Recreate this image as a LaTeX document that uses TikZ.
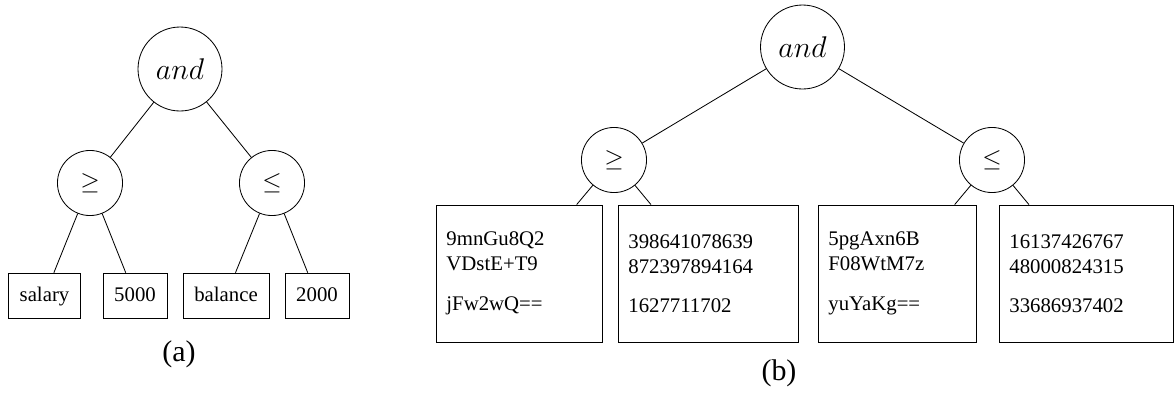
\documentclass[tikz,border=0pt]{standalone}
\usepackage{fontspec}
\setmainfont{Liberation Serif}
\begin{document}
\begin{tikzpicture}[x=0.481pt,y=-0.481pt,
        raiz/.style={draw,circle,inner sep=0pt,minimum size=40.4pt,font=\Large},
        op/.style={draw,circle,inner sep=0pt,minimum size=31.3pt,font=\large},
        hoja/.style={draw,inner xsep=5.4pt,text height=7pt,text depth=2pt,minimum height=22pt},
        cifra/.style={draw,align=left,inner xsep=5pt,minimum height=65.9pt},
        rotulo/.style={font=\Large}]
        \useasboundingbox (0,0) rectangle (1176,393);

        % ~~~~ Consulta en claro ~~~~ %
        \node[raiz] (andA) at (180,69) {$and$};
        \node[op] (geqA) at (90,183) {$\geq$};
        \node[op] (leqA) at (272,183) {$\leq$};
        \node[hoja] (salary) at (44.5,296) {salary};
        \node[hoja] (cinco) at (135,296) {5000};
        \node[hoja] (balance) at (226,296) {balance};
        \node[hoja] (dos) at (317,296) {2000};
        \draw (andA) -- (geqA);
        \draw (andA) -- (leqA);
        \draw (geqA) -- (salary);
        \draw (geqA) -- (cinco);
        \draw (leqA) -- (balance);
        \draw (leqA) -- (dos);
        \node[rotulo] (etqA) at (179,354) {(a)};

        % ~~~~ Consulta cifrada ~~~~ %
        \node[raiz] (andB) at (802.5,47) {$and$};
        \node[op] (geqB) at (614,160) {$\geq$};
        \node[op] (leqB) at (992,160) {$\leq$};
        \node[cifra,text width=69.8pt] (c1) at (519,273.5)
            {9mnGu8Q2\\VDstE+T9\\[7pt]jFw2wQ==};
        \node[cifra,text width=76.6pt] (c2) at (708,273.5)
            {398641078639\\872397894164\\[7pt]1627711702};
        \node[cifra,text width=66pt] (c3) at (897,273.5)
            {5pgAxn6B\\F08WtM7z\\[7pt]yuYaKg==};
        \node[cifra,text width=73.7pt] (c4) at (1086,273.5)
            {16137426767\\48000824315\\[7pt]33686937402};
        \draw (andB) -- (geqB);
        \draw (andB) -- (leqB);
        \draw (geqB) -- (c1);
        \draw (geqB) -- (c2);
        \draw (leqB) -- (c3);
        \draw (leqB) -- (c4);
        \node[rotulo] (etqB) at (779,373) {(b)};
    \end{tikzpicture}
\end{document}
